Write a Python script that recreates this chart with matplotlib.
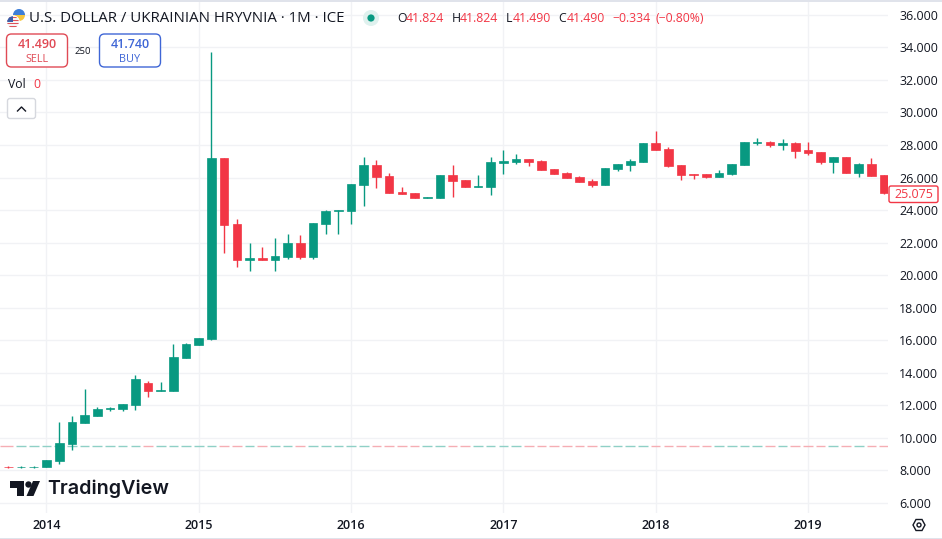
import matplotlib
matplotlib.use("Agg")
import matplotlib.pyplot as plt
from matplotlib.patches import FancyBboxPatch, Polygon, Circle, Rectangle, Wedge

plt.rcParams['font.family'] = ['Open Sans', 'DejaVu Sans']

GREEN = '#089981'
RED = '#f23645'
DARK = '#131722'
GRID = '#f1f2f5'

# monthly candles, Oct 2013 to Jul 2019
opens = [8.22, 8.19, 8.19, 8.19, 8.60, 9.62, 10.93, 11.36, 11.80, 11.77, 12.04, 13.39, 12.90, 12.90, 14.93, 15.73,
         16.10, 27.20, 23.15, 20.95, 21.06, 20.95, 21.14, 21.98, 21.14, 23.17, 23.97, 23.97, 25.56, 26.77, 26.09,
         25.11, 25.05, 24.76, 24.76, 26.15, 25.85, 25.44, 25.44, 26.91, 26.97, 27.14, 27.02, 26.53, 26.28, 26.04,
         25.79, 25.55, 26.53, 26.78, 26.96, 28.13, 27.76, 26.78, 26.24, 26.22, 26.04, 26.22, 26.77, 28.15, 28.19,
         28.02, 28.13, 27.70, 27.57, 26.96, 27.27, 26.28, 26.84, 26.16]
highs = [8.24, 8.24, 8.28, 8.62, 10.98, 11.34, 13.00, 11.88, 11.90, 12.08, 13.86, 13.50, 13.43, 15.77, 15.81, 16.12,
         33.70, 27.20, 23.45, 21.98, 21.73, 22.29, 22.53, 22.47, 23.21, 23.99, 23.99, 25.61, 27.24, 27.08, 26.30,
         25.44, 25.05, 24.78, 26.15, 26.77, 25.85, 26.15, 27.24, 27.69, 27.45, 27.14, 27.08, 26.53, 26.34, 26.10,
         25.91, 26.59, 26.84, 27.14, 28.13, 28.86, 27.88, 26.78, 26.24, 26.22, 26.47, 26.84, 28.19, 28.43, 28.27,
         28.37, 28.19, 28.19, 27.57, 27.27, 27.27, 26.90, 27.20, 26.16]
lows = [8.17, 8.17, 8.17, 8.19, 8.39, 9.25, 10.93, 11.36, 11.67, 11.65, 11.71, 12.53, 12.90, 12.90, 14.93, 15.73,
        16.00, 21.39, 20.52, 20.28, 20.95, 20.28, 21.02, 21.02, 21.02, 22.55, 22.55, 23.17, 24.27, 25.38, 25.07,
        25.01, 24.76, 24.76, 24.76, 24.82, 25.44, 25.44, 24.95, 26.24, 26.85, 26.73, 26.46, 26.22, 25.97, 25.73,
        25.42, 25.55, 26.41, 26.41, 26.96, 27.70, 26.65, 25.85, 25.91, 26.00, 26.04, 26.16, 26.77, 28.00, 27.90,
        27.70, 27.20, 27.40, 26.84, 26.28, 26.28, 26.04, 26.10, 25.00]
closes = [8.19, 8.21, 8.22, 8.62, 9.66, 10.98, 11.41, 11.77, 11.84, 12.08, 13.62, 12.90, 12.94, 14.97, 15.77, 16.12,
          27.20, 23.10, 20.95, 21.06, 20.95, 21.18, 21.98, 21.14, 23.21, 23.95, 23.99, 25.61, 26.77, 26.06, 25.07,
          25.01, 24.76, 24.78, 26.15, 25.81, 25.44, 25.48, 26.95, 27.01, 27.14, 26.97, 26.47, 26.22, 25.97, 25.73,
          25.55, 26.59, 26.84, 27.02, 28.13, 27.70, 26.71, 26.16, 26.18, 26.04, 26.28, 26.84, 28.19, 28.19, 28.00,
          28.13, 27.63, 27.51, 26.96, 27.27, 26.28, 26.84, 26.10, 25.075]
zero_vol_level = 9.5

price_ticks = [6, 8, 10, 12, 14, 16, 18, 20, 22, 24, 26, 28, 30, 32, 34, 36]
year_ticks = [3, 15, 27, 39, 51, 63]
year_labels = ['2014', '2015', '2016', '2017', '2018', '2019']

W, H = 942, 539
fig = plt.figure(figsize=(W / 100, H / 100), dpi=100)
ax = fig.add_axes([0, (H - 513) / H, 888 / W, 511 / H])
ax.set_xlim(-0.664, 69.31)
ax.set_ylim(5.38, 36.79)
for s in ax.spines.values():
    s.set_visible(False)
ax.set_axisbelow(True)
ax.grid(True, color=GRID, linewidth=1)
ax.yaxis.tick_right()
ax.set_yticks(price_ticks, [f'{p:.3f}' for p in price_ticks])
ax.set_xticks(year_ticks, year_labels)
ax.tick_params(axis='y', length=0, pad=8, labelsize=9, labelcolor=DARK)
ax.tick_params(axis='x', length=0, pad=4, labelsize=9, labelcolor=DARK)
for lab in ax.get_xticklabels():
    lab.set_fontweight('semibold')

for i in range(len(opens)):
    col = GREEN if closes[i] >= opens[i] else RED
    light = '#8fd0c6' if closes[i] >= opens[i] else '#f5aeb4'
    # first volume dash runs off the left edge
    left = i - 0.38 if i > 0 else -0.664
    ax.hlines(zero_vol_level, left, i + 0.38, color=light, linewidth=1, zorder=1)
    ax.vlines(i, lows[i], highs[i], color=col, linewidth=1, zorder=2)
    ax.bar(i, abs(closes[i] - opens[i]), bottom=min(opens[i], closes[i]), width=0.68,
           color=col, edgecolor=col, linewidth=0.5, zorder=3)

# overlay in pixel coordinates for the header, buttons and logo
ov = fig.add_axes([0, 0, 1, 1], zorder=5)
ov.set_xlim(0, W)
ov.set_ylim(H, 0)
ov.axis('off')
ov.patch.set_alpha(0)

ov.add_patch(Rectangle((0, 0), W, 2, color='#e0e3eb', linewidth=0))
ov.add_patch(Rectangle((0, 537.5), W, 1.5, color='#e0e3eb', linewidth=0))

# pair icon, y axis is flipped here so 180-360 is the upper half
ov.add_patch(Wedge((19, 15), 6, 180, 360, color='#3d7fd9', linewidth=0))
ov.add_patch(Wedge((19, 15), 6, 0, 180, color='#f7c63c', linewidth=0))
ov.add_patch(Circle((13, 22), 6.8, color='#ffffff', linewidth=0))
flag = Circle((13, 22), 5.8, color='#f4f4f4', linewidth=0)
ov.add_patch(flag)
for y in [17.5, 20.5, 23.5, 26.5]:
    stripe = Rectangle((7, y - 0.8), 12, 1.6, color='#e0525a', linewidth=0)
    ov.add_patch(stripe)
    stripe.set_clip_path(flag)
ov.add_patch(Wedge((13, 22), 5.8, 180, 270, color='#3e5fa8', linewidth=0))

ov.text(29, 19, 'U.S. DOLLAR / UKRAINIAN HRYVNIA · 1M · ICE', fontsize=10.8, color=DARK, va='center', ha='left')

ov.add_patch(Circle((371, 18), 8, color='#dff1ee', linewidth=0))
ov.add_patch(Circle((371, 18), 3.6, color=GREEN, linewidth=0))

for x, s, c in [(397, 'O', DARK), (406, '41.824', RED), (452, 'H', DARK), (460, '41.824', RED),
                (506, 'L', DARK), (513, '41.490', RED), (558, 'C', DARK), (567, '41.490', RED),
                (612, '−0.334', RED), (656, '(−0.80%)', RED)]:
    ov.text(x, 18.5, s, fontsize=8.8, color=c, va='center', ha='left')

# sell / buy buttons
for x0, col, price, name in [(6.5, '#e04a55', '41.490', 'SELL'), (99.5, '#3f66d6', '41.740', 'BUY')]:
    ov.add_patch(FancyBboxPatch((x0 + 3, 37), 55, 27, boxstyle='round,pad=3,rounding_size=5',
                                fc='white', ec=col, linewidth=1))
    ov.text(x0 + 30.5, 44.5, price, fontsize=9, color=col, fontweight='semibold', ha='center', va='center')
    ov.text(x0 + 30.5, 59, name, fontsize=7.8, color=col, ha='center', va='center')
ov.text(83, 51.5, '250', fontsize=6.8, color=DARK, ha='center', va='center')

ov.text(7.5, 85, 'Vol', fontsize=8.8, color=DARK, va='center')
ov.text(33, 85, '0', fontsize=8.8, color=RED, va='center')
ov.add_patch(FancyBboxPatch((10, 101), 23, 15, boxstyle='round,pad=2.5,rounding_size=2.5',
                            fc='white', ec='#d6d8de', linewidth=1))
ov.plot([17.5, 21.5, 25.5], [111, 107, 111], color=DARK, linewidth=1)

# last price label
ov.add_patch(FancyBboxPatch((891, 188), 45, 12.5, boxstyle='round,pad=2,rounding_size=2',
                            fc='white', ec=RED, linewidth=1))
ov.text(913.5, 194.5, '25.075', fontsize=9, color=RED, ha='center', va='center')

# TradingView logo
ov.add_patch(Polygon([(10, 481), (24, 481), (24, 496), (17, 496), (17, 488), (10, 488)], color='#131722', linewidth=0))
ov.add_patch(Circle((28.5, 484.5), 3.2, color='#131722', linewidth=0))
ov.add_patch(Polygon([(33, 481), (40, 481), (33.5, 496), (26.5, 496)], color='#131722', linewidth=0))
ov.text(47, 489, 'TradingView', fontsize=14.2, fontweight='semibold', color='#131722', family='Inter', va='center')

# settings icon
ov.add_patch(Polygon([(913, 525), (916, 519.5), (922, 519.5), (925, 525), (922, 530.5), (916, 530.5)],
                     fc='none', ec=DARK, linewidth=1))
ov.add_patch(Circle((919, 525), 2, fc='none', ec=DARK, linewidth=1))

fig.savefig('out.png', dpi=100, facecolor='white')
